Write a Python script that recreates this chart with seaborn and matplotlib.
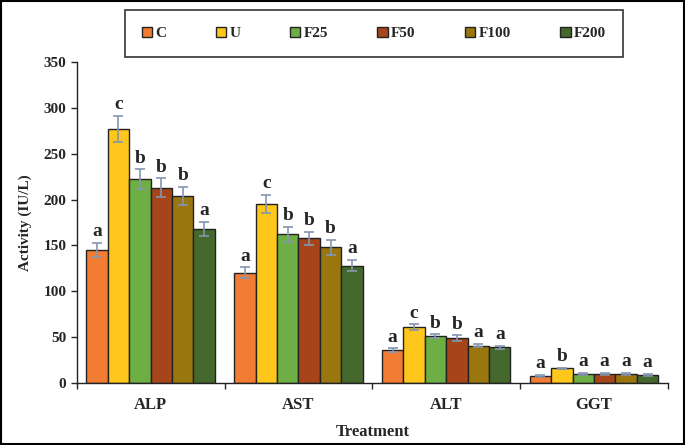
import numpy as np
import pandas as pd
import seaborn as sns
import matplotlib.pyplot as plt
from matplotlib.patches import Rectangle

# values
enzymes = ['ALP', 'AST', 'ALT', 'GGT']
groups = ['C', 'U', 'F25', 'F50', 'F100', 'F200']
alp = [145, 277, 222, 213, 204, 168]
ast = [120, 195, 162, 158, 148, 128]
alt = [36, 61, 51, 49, 41, 39]
ggt = [8, 16, 10, 10, 10, 9]
alp_err = [8, 14, 11, 10, 10, 8]
ast_err = [6, 10, 8, 7, 8, 6]
alt_err = [2, 3, 2, 3, 2, 2]
ggt_err = [1, 1, 1, 1, 1, 1]
alp_sig = ['a', 'c', 'b', 'b', 'b', 'a']
ast_sig = ['a', 'c', 'b', 'b', 'b', 'a']
alt_sig = ['a', 'c', 'b', 'b', 'a', 'a']
ggt_sig = ['a', 'b', 'a', 'a', 'a', 'a']

colors = ['#F27C34', '#FFC61C', '#6EAF45', '#A6451A', '#9A760E', '#45692C']

rows = []
for enz, vals, errs, sigs in zip(enzymes, [alp, ast, alt, ggt],
                                 [alp_err, ast_err, alt_err, ggt_err],
                                 [alp_sig, ast_sig, alt_sig, ggt_sig]):
    for g, v, e, s in zip(groups, vals, errs, sigs):
        rows.append({'Enzyme': enz, 'Group': g, 'Activity': v, 'Err': e, 'Sig': s})
df = pd.DataFrame(rows)

sns.set_style('ticks')
plt.rcParams['font.family'] = ['Liberation Serif', 'DejaVu Serif']
plt.rcParams['font.weight'] = 'bold'

fig = plt.figure(figsize=(6.85, 4.45), dpi=100)
ax = fig.add_axes([0.112, 0.139, 0.863, 0.722])

sns.barplot(data=df, x='Enzyme', y='Activity', hue='Group', hue_order=groups,
            palette=colors, saturation=1, width=0.87, errorbar=None,
            edgecolor='#222222', linewidth=1.0, ax=ax, legend=True)

# error bars and significance letters
for g, cont in zip(groups, ax.containers):
    sub = df[df['Group'] == g]
    xs = [p.get_x() + p.get_width() / 2 for p in cont.patches]
    ax.errorbar(xs, sub['Activity'], yerr=sub['Err'], fmt='none',
                ecolor='#8496B0', elinewidth=1.2, capsize=3.5, capthick=1.2)
    for x, v, e, s in zip(xs, sub['Activity'], sub['Err'], sub['Sig']):
        ax.text(x, v + e + 3, s, ha='center', va='bottom', fontsize=14,
                fontweight='bold')

ax.set_ylim(0, 350)
ax.set_xlim(-0.5, 3.5)
ax.set_yticks(range(0, 351, 50))
ax.set_xticks([-0.5, 0.5, 1.5, 2.5, 3.5], minor=True)
ax.tick_params(axis='x', which='major', length=0, pad=10, labelsize=12)
ax.tick_params(axis='x', which='minor', length=4, width=1, direction='out')
ax.tick_params(axis='y', length=4, width=1, labelsize=11)
for lab in ax.get_xticklabels() + ax.get_yticklabels():
    lab.set_fontweight('bold')
ax.set_xlabel('Treatment', fontsize=12, fontweight='bold', labelpad=8)
ax.set_ylabel('Activity (IU/L)', fontsize=11, fontweight='bold', labelpad=8)
sns.despine(ax=ax)
for sp in ['left', 'bottom']:
    ax.spines[sp].set_linewidth(1)
    ax.spines[sp].set_color('#222222')

handles, labels = ax.get_legend_handles_labels()
ax.legend_.remove()
leg = fig.legend(handles, labels, loc='center', ncol=6, mode='expand',
                 bbox_to_anchor=(0.171, 0.872, 0.749, 0.106),
                 frameon=True, fancybox=False, edgecolor='black',
                 handlelength=0.7, handleheight=0.7, handletextpad=0.2,
                 prop={'weight': 'bold', 'size': 11}, borderpad=1.1)
leg.get_frame().set_linewidth(1.2)

fig.patches.append(Rectangle((0.002, 0.003), 0.996, 0.994, transform=fig.transFigure,
                             fill=False, edgecolor='black', linewidth=1.5))

fig.savefig('out.png', dpi=100)
